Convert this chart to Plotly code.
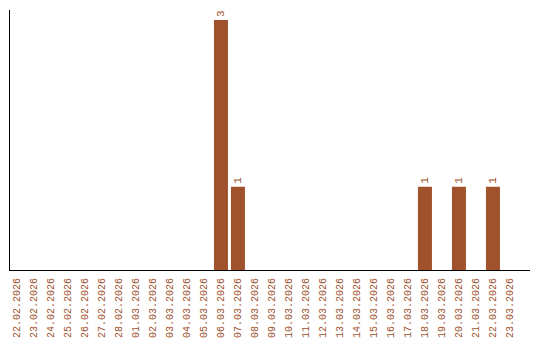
import plotly.graph_objects as go

dates = ["22.02.2026", "23.02.2026", "24.02.2026", "25.02.2026", "26.02.2026", "27.02.2026",
         "28.02.2026", "01.03.2026", "02.03.2026", "03.03.2026", "04.03.2026", "05.03.2026",
         "06.03.2026", "07.03.2026", "08.03.2026", "09.03.2026", "10.03.2026", "11.03.2026",
         "12.03.2026", "13.03.2026", "14.03.2026", "15.03.2026", "16.03.2026", "17.03.2026",
         "18.03.2026", "19.03.2026", "20.03.2026", "21.03.2026", "22.03.2026", "23.03.2026"]
counts = [0, 0, 0, 0, 0, 0, 0, 0, 0, 0, 0, 0, 3, 1, 0, 0, 0, 0, 0, 0, 0, 0, 0, 0, 1, 0, 1, 0, 1, 0]

color = "#a0522d"
mono = "Liberation Mono"
labels = [str(c) if c > 0 else "" for c in counts]

fig = go.Figure(go.Bar(
    x=dates, y=counts, marker_color=color, marker_line_width=0,
    text=labels, textposition="outside", textangle=-90, cliponaxis=False,
    textfont=dict(family=mono, size=11, color=color),
))
fig.update_layout(
    width=540, height=340, margin=dict(l=10, r=10, t=10, b=70),
    plot_bgcolor="white", paper_bgcolor="white", bargap=0.176, showlegend=False,
    font=dict(family=mono, size=10, color=color),
)
fig.update_xaxes(type="category", tickangle=-90, showline=True, linecolor="black", linewidth=1,
                 range=[-0.41, 30.18], automargin=False, ticklabelstandoff=3,
                 showgrid=False, ticks="", tickfont=dict(family=mono, size=10, color=color))
fig.update_yaxes(range=[0, 3.12], showline=True, linecolor="black", linewidth=1, showgrid=False,
                 showticklabels=False, ticks="", zeroline=False, automargin=False)
fig.write_html("out.html")
